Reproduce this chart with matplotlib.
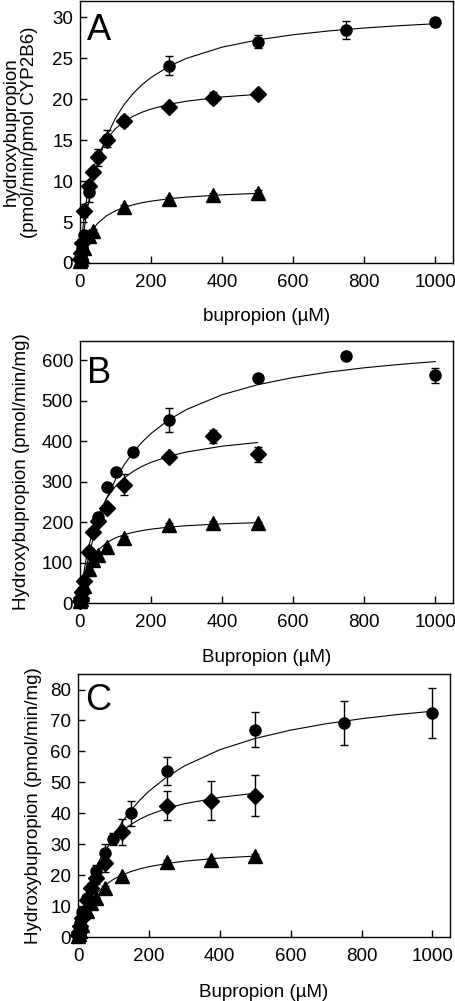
import numpy as np
import matplotlib
matplotlib.use("Agg")
import matplotlib.pyplot as plt

plt.rcParams['font.family'] = ['Liberation Sans', 'DejaVu Sans']

# fitted curves
fit_x = [0, 5, 10, 20, 35, 50, 75, 100, 125, 150, 175, 200, 250, 300, 400, 500, 600, 700, 800, 900, 1000]
fit_x_half = fit_x[:16]

# panel A
a_circ_x = [1, 2.5, 5, 10, 25, 50, 75, 250, 500, 750, 1000]
a_circ_y = [0.4, 0.9, 1.8, 3.4, 8.7, 12.9, 15.2, 24.1, 27.0, 28.5, 29.4]
a_circ_e = [0.1, 0.1, 0.2, 0.4, 1.2, 1.0, 1.0, 1.2, 0.8, 1.1, 0.5]
a_diam_x = [1, 2.5, 5, 10, 25, 37.5, 50, 75, 125, 250, 375, 500]
a_diam_y = [0.5, 1.2, 2.4, 6.4, 9.4, 11.1, 13.0, 15.0, 17.3, 19.1, 20.2, 20.7]
a_diam_e = [0.1, 0.2, 0.3, 0.8, 0.5, 0.5, 0.5, 0.5, 0.6, 0.5, 0.7, 0.3]
a_tri_x = [1, 2.5, 5, 10, 25, 37.5, 125, 250, 375, 500]
a_tri_y = [0.2, 0.5, 0.9, 1.8, 3.3, 3.9, 6.8, 7.8, 8.3, 8.6]
a_tri_e = [0.05, 0.1, 0.1, 0.2, 0.2, 0.3, 0.3, 0.3, 0.3, 0.3]
a_fit_circ = [0, 1.90, 3.58, 6.43, 9.76, 12.30, 15.44, 17.70, 19.40, 20.72, 21.79, 22.66, 24.01, 25.0,
              26.36, 27.25, 27.88, 28.34, 28.70, 28.99, 29.22]
a_fit_diam = [0, 2.82, 5.0, 8.15, 11.16, 13.10, 15.14, 16.42, 17.30, 17.93, 18.42, 18.80, 19.37, 19.76,
              20.28, 20.60]
a_fit_tri = [0, 0.92, 1.67, 2.83, 4.03, 4.85, 5.77, 6.37, 6.80, 7.11, 7.36, 7.55, 7.84, 8.05, 8.32, 8.50]

# panel B
b_circ_x = [1, 2.5, 5, 10, 25, 50, 75, 100, 150, 250, 500, 750, 1000]
b_circ_y = [6, 15, 30, 55, 125, 213, 287, 324, 374, 452, 557, 610, 563]
b_circ_e = [1, 2, 3, 5, 8, 10, 8, 10, 8, 30, 6, 10, 18]
b_diam_x = [1, 2.5, 5, 10, 25, 37.5, 50, 75, 125, 250, 375, 500]
b_diam_y = [5, 12, 28, 55, 127, 176, 203, 236, 293, 362, 412, 368]
b_diam_e = [1, 2, 3, 5, 6, 6, 8, 8, 26, 8, 15, 18]
b_tri_x = [1, 2.5, 5, 10, 25, 37.5, 50, 75, 125, 250, 375, 500]
b_tri_y = [4, 10, 22, 42, 85, 106, 118, 139, 162, 193, 199, 197]
b_tri_e = [1, 1, 2, 3, 3, 3, 3, 3, 4, 4, 4, 4]
b_fit_circ = [0, 27.0, 51.9, 96.4, 152.2, 198.1, 258.8, 305.6, 342.8, 373.0, 398.2, 419.3, 453.1, 478.7,
              515.2, 539.9, 557.7, 571.2, 581.8, 590.2, 597.2]
b_fit_diam = [0, 38.6, 71.0, 122.2, 176.8, 215.3, 259.3, 288.7, 309.8, 325.7, 338.1, 348.0, 362.9, 373.6,
              387.9, 397.0]
b_fit_tri = [0, 29.3, 51.5, 82.7, 111.9, 130.2, 149.3, 161.1, 169.1, 174.9, 179.2, 182.7, 187.7, 191.2,
             195.8, 198.7]

# panel C
c_circ_x = [1, 2.5, 5, 10, 25, 50, 75, 100, 150, 250, 500, 750, 1000]
c_circ_y = [0.8, 2.0, 4.5, 8.0, 12.5, 21.2, 27.1, 31.6, 40.0, 53.7, 67.0, 69.2, 72.4]
c_circ_e = [0.2, 0.3, 0.5, 0.8, 1.2, 2.2, 3.0, 2.0, 4.0, 4.5, 5.7, 7.0, 8.0]
c_diam_x = [1, 2.5, 5, 10, 25, 37.5, 50, 75, 125, 250, 375, 500]
c_diam_y = [0.5, 1.5, 3.5, 6.0, 12.0, 16.0, 19.0, 24.0, 34.0, 42.5, 44.1, 45.7]
c_diam_e = [0.2, 0.3, 0.5, 0.8, 1.0, 1.5, 2.0, 3.0, 4.2, 4.8, 6.3, 6.6]
c_tri_x = [1, 2.5, 5, 10, 25, 37.5, 50, 75, 125, 250, 375, 500]
c_tri_y = [0.3, 1.0, 2.0, 4.0, 8.5, 11.0, 12.5, 15.9, 19.7, 24.4, 25.0, 26.3]
c_tri_e = [0.1, 0.1, 0.2, 0.3, 0.4, 0.5, 0.5, 0.5, 0.5, 0.5, 0.5, 0.5]
c_fit_circ = [0, 2.58, 5.01, 9.45, 15.26, 20.24, 27.12, 32.66, 37.24, 41.07, 44.33, 47.13, 51.71, 55.29,
              60.54, 64.19, 66.88, 68.94, 70.57, 71.90, 72.99]
c_fit_diam = [0, 3.66, 6.85, 12.13, 18.10, 22.54, 27.85, 31.58, 34.33, 36.45, 38.13, 39.49, 41.57, 43.09,
              45.15, 46.48]
c_fit_tri = [0, 2.39, 4.41, 7.66, 11.19, 13.73, 16.66, 18.65, 20.10, 21.19, 22.05, 22.73, 23.77, 24.52,
             25.53, 26.17]

panels = [
    ("A", "hydroxybupropion\n(pmol/min/pmol CYP2B6)", "bupropion (\u00b5M)",
     [(a_circ_x, a_circ_y, a_circ_e, 'o'), (a_diam_x, a_diam_y, a_diam_e, 'D'), (a_tri_x, a_tri_y, a_tri_e, '^')],
     [a_fit_circ, a_fit_diam, a_fit_tri], 32, np.arange(0, 31, 5)),
    ("B", "Hydroxybupropion (pmol/min/mg)", "Bupropion (\u00b5M)",
     [(b_circ_x, b_circ_y, b_circ_e, 'o'), (b_diam_x, b_diam_y, b_diam_e, 'D'), (b_tri_x, b_tri_y, b_tri_e, '^')],
     [b_fit_circ, b_fit_diam, b_fit_tri], 648, np.arange(0, 601, 100)),
    ("C", "Hydroxybupropion (pmol/min/mg)", "Bupropion (\u00b5M)",
     [(c_circ_x, c_circ_y, c_circ_e, 'o'), (c_diam_x, c_diam_y, c_diam_e, 'D'), (c_tri_x, c_tri_y, c_tri_e, '^')],
     [c_fit_circ, c_fit_diam, c_fit_tri], 85, np.arange(0, 81, 10)),
]

boxes = [[0.1754, 0.7373, 0.818, 0.2617],
         [0.1754, 0.3976, 0.818, 0.2617],
         [0.1711, 0.0639, 0.816, 0.2627]]
ylabel_x = [-0.113, -0.134, -0.098]
xlabel_pad = [12, 13, 13.5]
letter_y = [0.889, 0.878, 0.90]
msize = {'o': 8, 'D': 8.5, '^': 10}

fig = plt.figure(figsize=(4.56, 10.01), dpi=100)

for i, (letter, ylab, xlab, series, fits, ymax, yticks) in enumerate(panels):
    ax = fig.add_axes(boxes[i])
    for (x, y, e, m), f in zip(series, fits):
        fx = fit_x if len(f) == len(fit_x) else fit_x_half
        ax.plot(fx, f, color='black', lw=0.8, zorder=2)
        ax.errorbar(x, y, yerr=e, fmt=m, color='black', ms=msize[m], capsize=3,
                    elinewidth=1, capthick=1, clip_on=False, zorder=3)
    ax.set_xlim(0, 1050)
    ax.set_ylim(0, ymax)
    ax.set_xticks(np.arange(0, 1001, 200))
    ax.set_yticks(yticks)
    ax.tick_params(direction='in', length=5, width=1, labelsize=13.5)
    ax.tick_params(axis='x', pad=8)
    ax.tick_params(axis='y', pad=5)
    for s in ax.spines.values():
        s.set_linewidth(1)
    ax.set_xlabel(xlab, fontsize=13.5, labelpad=xlabel_pad[i])
    ax.set_ylabel(ylab, fontsize=13.5, linespacing=1.05)
    ax.yaxis.set_label_coords(ylabel_x[i], 0.5)
    ax.text(0.019, letter_y[i], letter, transform=ax.transAxes, fontsize=26,
            ha='left', va='center')

fig.savefig("out.png", dpi=100)
